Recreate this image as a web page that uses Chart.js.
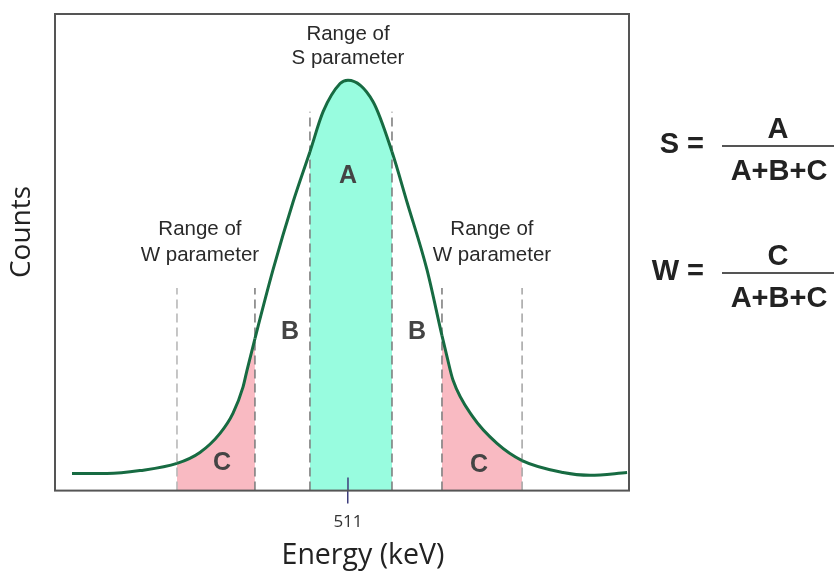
<!DOCTYPE html>
<html><head><meta charset="utf-8">
<script src="https://cdn.jsdelivr.net/npm/chart.js@4.4.1/dist/chart.umd.min.js"></script>
<style>html,body{margin:0;padding:0;background:#fff}canvas{display:block}</style>
</head><body>
<canvas id="c" width="839" height="573"></canvas>
<script>
// ---- data ----
const energy = [499.46, 500.92, 502.30, 503.85, 504.81, 505.65, 506.19, 506.61, 506.78, 507.11, 507.87, 508.70, 509.41, 509.96, 510.67, 511.00, 512.05, 512.84, 513.47, 514.30, 514.93, 515.14, 515.39, 516.23, 517.23, 518.28, 519.99, 521.12, 522.67];
const counts = [36, 36, 42, 57, 80, 120, 162, 217, 253, 319, 464, 605, 711, 795, 854, 861, 816, 711, 605, 464, 325, 281, 232, 154, 99, 63, 38, 32, 38];
const sWindow = [509.41, 512.84];
const wWindowLeft = [503.85, 507.11];
const wWindowRight = [514.93, 518.28];
const sLineTop = 795;
const wLineTop = 425;
const xTicks = [511];
const xRange = [498.75, 522.75];
const yRange = [0, 1000];
const regionLabels = ['A', 'B', 'B', 'C', 'C'];
const regionLabelX = [511.0, 508.58, 513.89, 505.73, 516.48];
const regionLabelY = [660, 333, 333, 57, 53];
const rangeLabels = [['Range of', 'S parameter'], ['Range of', 'W parameter'], ['Range of', 'W parameter']];
const rangeLabelX = [511.0, 504.81, 517.02];
const rangeLabelY = [[958, 907], [549, 494], [549, 494]];
const formulas = [{lhs: 'S =', num: 'A', den: 'A+B+C'}, {lhs: 'W =', num: 'C', den: 'A+B+C'}];
const xTitle = 'Energy (keV)';
const yTitle = 'Counts';

const TEAL = '#98FCDF';
const PINK = '#F9BAC2';
const CURVE = '#176B42';

function regionColor(a, b) {
  const e = 1e-6;
  if (a >= sWindow[0] - e && b <= sWindow[1] + e) return TEAL;
  if ((a >= wWindowLeft[0] - e && b <= wWindowLeft[1] + e) ||
      (a >= wWindowRight[0] - e && b <= wWindowRight[1] + e)) return PINK;
  return 'rgba(0,0,0,0)';
}

const curveData = energy.map((x, i) => ({x, y: counts[i]}));
const edges = [
  {e: wWindowLeft[0], top: wLineTop, color: '#b8b8b8'},
  {e: wWindowLeft[1], top: wLineTop, color: '#808080'},
  {e: sWindow[0], top: sLineTop, color: '#808080'},
  {e: sWindow[1], top: sLineTop, color: '#808080'},
  {e: wWindowRight[0], top: wLineTop, color: '#808080'},
  {e: wWindowRight[1], top: wLineTop, color: '#a8a8a8'}
];
const dashSets = edges.map(d => ({
  data: [{x: d.e, y: yRange[0]}, {x: d.e, y: d.top}],
  borderColor: d.color, borderWidth: 1.6, borderDash: [9, 5],
  pointRadius: 0, fill: false, order: 2
}));

const annot = {
  id: 'annot',
  afterDraw(chart) {
    const {ctx, chartArea: a, scales: {x, y}} = chart;
    ctx.save();
    // inner part of the 511 tick
    ctx.strokeStyle = '#3d3d7c'; ctx.lineWidth = 1.5;
    xTicks.forEach(t => {
      const px = x.getPixelForValue(t);
      ctx.beginPath(); ctx.moveTo(px, a.bottom - 13); ctx.lineTo(px, a.bottom); ctx.stroke();
    });
    // frame
    ctx.strokeStyle = '#555'; ctx.lineWidth = 2;
    ctx.strokeRect(a.left, a.top, a.right - a.left, a.bottom - a.top);
    // region letters
    ctx.textAlign = 'center'; ctx.textBaseline = 'middle';
    ctx.fillStyle = '#444';
    ctx.font = 'bold 25px "Liberation Sans", Arial, sans-serif';
    regionLabels.forEach((t, i) => ctx.fillText(t, x.getPixelForValue(regionLabelX[i]), y.getPixelForValue(regionLabelY[i])));
    // range labels
    ctx.fillStyle = '#2a2a2a';
    ctx.font = '20.5px "Liberation Sans", Arial, sans-serif';
    rangeLabels.forEach((lines, i) => lines.forEach((t, j) =>
      ctx.fillText(t, x.getPixelForValue(rangeLabelX[i]), y.getPixelForValue(rangeLabelY[i][j]))));
    // axis titles
    ctx.fillStyle = '#222';
    ctx.font = '28.5px "Open Sans", sans-serif';
    ctx.fillText(xTitle, 363, 556);
    ctx.save();
    ctx.translate(22, 232); ctx.rotate(-Math.PI / 2);
    ctx.font = '28px "Open Sans", sans-serif';
    ctx.fillText(yTitle, 0, 0);
    ctx.restore();
    // formulas
    const fy = [145, 272];
    ctx.fillStyle = '#222';
    ctx.font = 'bold 29px "Liberation Sans", Arial, sans-serif';
    formulas.forEach((f, i) => {
      const base = fy[i];
      ctx.textAlign = 'right';
      ctx.fillText(f.lhs, 704, base);
      ctx.textAlign = 'center';
      ctx.fillText(f.num, 778, base - 15);
      ctx.fillText(f.den, 779, base + 27);
      ctx.strokeStyle = '#555'; ctx.lineWidth = 2;
      ctx.beginPath(); ctx.moveTo(722, base + 1); ctx.lineTo(834, base + 1); ctx.stroke();
    });
    ctx.restore();
  }
};

new Chart(document.getElementById('c'), {
  type: 'line',
  data: {
    datasets: [{
      data: curveData,
      borderColor: CURVE, borderWidth: 3,
      backgroundColor: 'rgba(0,0,0,0)',
      fill: 'origin',
      cubicInterpolationMode: 'monotone',
      pointRadius: 0, order: 0,
      segment: {backgroundColor: c => regionColor(c.p0.parsed.x, c.p1.parsed.x)}
    }, ...dashSets]
  },
  options: {
    responsive: false, animation: false, devicePixelRatio: 1,
    layout: {padding: {left: 55, top: 14, right: 210, bottom: 33}},
    plugins: {legend: {display: false}, tooltip: {enabled: false}, filler: {drawTime: 'beforeDatasetsDraw'}},
    scales: {
      x: {
        type: 'linear', min: xRange[0], max: xRange[1],
        afterBuildTicks: s => { s.ticks = xTicks.map(v => ({value: v})); },
        ticks: {padding: 8, color: '#333', font: {family: '"Open Sans", sans-serif', size: 17}, maxRotation: 0},
        grid: {display: true, drawOnChartArea: false, drawTicks: true, tickLength: 13, color: '#3d3d7c', lineWidth: 1.5},
        border: {display: false}
      },
      y: {
        type: 'linear', min: yRange[0], max: yRange[1], display: false
      }
    }
  },
  plugins: [annot]
});
</script>
</body></html>
